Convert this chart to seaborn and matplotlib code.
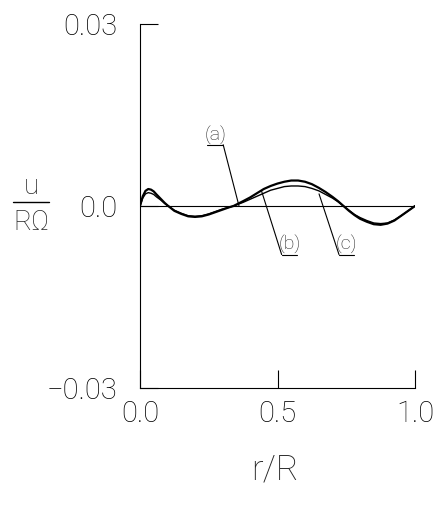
import numpy as np
import pandas as pd
import matplotlib
matplotlib.use('Agg')
import matplotlib.pyplot as plt
from matplotlib.lines import Line2D
import seaborn as sns

# r/R sample points
r = [0.0, 0.01, 0.02, 0.03, 0.04, 0.05, 0.06, 0.075, 0.09, 0.10, 0.125, 0.15, 0.175,
     0.20, 0.225, 0.25, 0.275, 0.30, 0.325, 0.34, 0.375, 0.40, 0.425, 0.45, 0.475,
     0.50, 0.525, 0.55, 0.575, 0.60, 0.625, 0.65, 0.675, 0.70, 0.72, 0.74, 0.76,
     0.78, 0.80, 0.825, 0.85, 0.875, 0.90, 0.925, 0.95, 0.975, 1.0]
# curve (b): upper, heavier line
u_b = [0.0, 0.0016, 0.0025, 0.0028, 0.0027, 0.0024, 0.0019, 0.0012, 0.0005, 0.0001,
       -0.0008, -0.0013, -0.0017, -0.0018, -0.0017, -0.0014, -0.0010, -0.0006, -0.0002,
       0.0, 0.0008, 0.0014, 0.0021, 0.0028, 0.0033, 0.0037, 0.0040, 0.0042, 0.0042,
       0.0040, 0.0036, 0.0030, 0.0023, 0.0015, 0.0008, 0.0, -0.0008, -0.0015, -0.0021,
       -0.0026, -0.0030, -0.0031, -0.0029, -0.0024, -0.0016, -0.0008, 0.0]
# curve (c): lower, thinner line
u_c = [0.0, 0.0013, 0.0020, 0.0022, 0.0021, 0.0019, 0.0015, 0.0010, 0.0004, 0.0001,
       -0.0007, -0.0012, -0.0016, -0.0017, -0.0016, -0.0013, -0.0009, -0.0005, -0.0002,
       0.0, 0.0006, 0.0011, 0.0016, 0.0021, 0.0026, 0.0029, 0.0032, 0.0033, 0.0033,
       0.0032, 0.0029, 0.0025, 0.0019, 0.0013, 0.0007, 0.0, -0.0007, -0.0014, -0.0019,
       -0.0024, -0.0028, -0.0029, -0.0028, -0.0023, -0.0016, -0.0008, 0.0]
# curve (a): the zero line
r_a = [0.0, 1.0]
u_a = [0.0, 0.0]

x_ticks = [0.0, 0.5, 1.0]
x_ticklabels = ['0.0', '0.5', '1.0']
y_ticks = [-0.03, 0.0, 0.03]
y_ticklabels = ['\u22120.03', '0.0', '0.03']

sns.set_style('white')
plt.rcParams['font.family'] = ['Roboto', 'DejaVu Sans']
plt.rcParams['font.weight'] = 'light'

df = pd.DataFrame({'r': r, 'b': u_b, 'c': u_c})

fig = plt.figure(figsize=(4.43, 5.14), dpi=100)
ax = fig.add_axes([140 / 443, 1 - 388 / 514, 275 / 443, 364 / 514])

sns.lineplot(x=r_a, y=u_a, ax=ax, color='black', lw=0.8)
sns.lineplot(data=df, x='r', y='c', ax=ax, color='black', lw=1.0)
sns.lineplot(data=df, x='r', y='b', ax=ax, color='black', lw=1.6)

ax.set_xlim(0, 1)
ax.set_ylim(-0.03, 0.03)
ax.set_xticks(x_ticks)
ax.set_xticklabels(x_ticklabels)
ax.set_yticks(y_ticks)
ax.set_yticklabels(y_ticklabels)
ax.tick_params(bottom=True, left=True, direction='in', length=13, width=0.8,
               labelsize=21, colors='black')
ax.tick_params(axis='y', pad=16)
ax.tick_params(axis='x', pad=9)
for s in ['top', 'right']:
    ax.spines[s].set_visible(False)
for s in ['left', 'bottom']:
    ax.spines[s].set_color('black')
    ax.spines[s].set_linewidth(0.8)
ax.set_xlabel('')
ax.set_ylabel('')

# curve labels with underline and leader line
labels = [('(a)', (0.273, 0.0117), (0.2425, 0.3025), 0.3025, (0.36, 0.0)),
          ('(b)', (0.545, -0.0064), (0.515, 0.570), 0.515, (0.4425, 0.0024)),
          ('(c)', (0.752, -0.0064), (0.7236, 0.779), 0.7236, (0.651, 0.0020))]
for txt, (tx, ty), (ux0, ux1), lx, (px, py) in labels:
    ax.text(tx, ty, txt, ha='center', va='center', fontsize=14)
    uy = ty - 0.0016
    ax.plot([ux0, ux1], [uy, uy], color='black', lw=0.8)
    ax.plot([lx, px], [uy, py], color='black', lw=0.8)

# axis labels
fig.text(275 / 443, 1 - 470 / 514, 'r/R', ha='center', va='center', fontsize=25)
fig.text(31 / 443, 1 - 186 / 514, 'u', ha='center', va='center', fontsize=20)
fig.text(31 / 443, 1 - 222 / 514, 'R\u03a9', ha='center', va='center', fontsize=20)
fig.add_artist(Line2D([13 / 443, 49 / 443], [1 - 202 / 514, 1 - 202 / 514],
                      color='black', lw=1.0, transform=fig.transFigure))

fig.savefig('out.png', dpi=100, facecolor='white')
